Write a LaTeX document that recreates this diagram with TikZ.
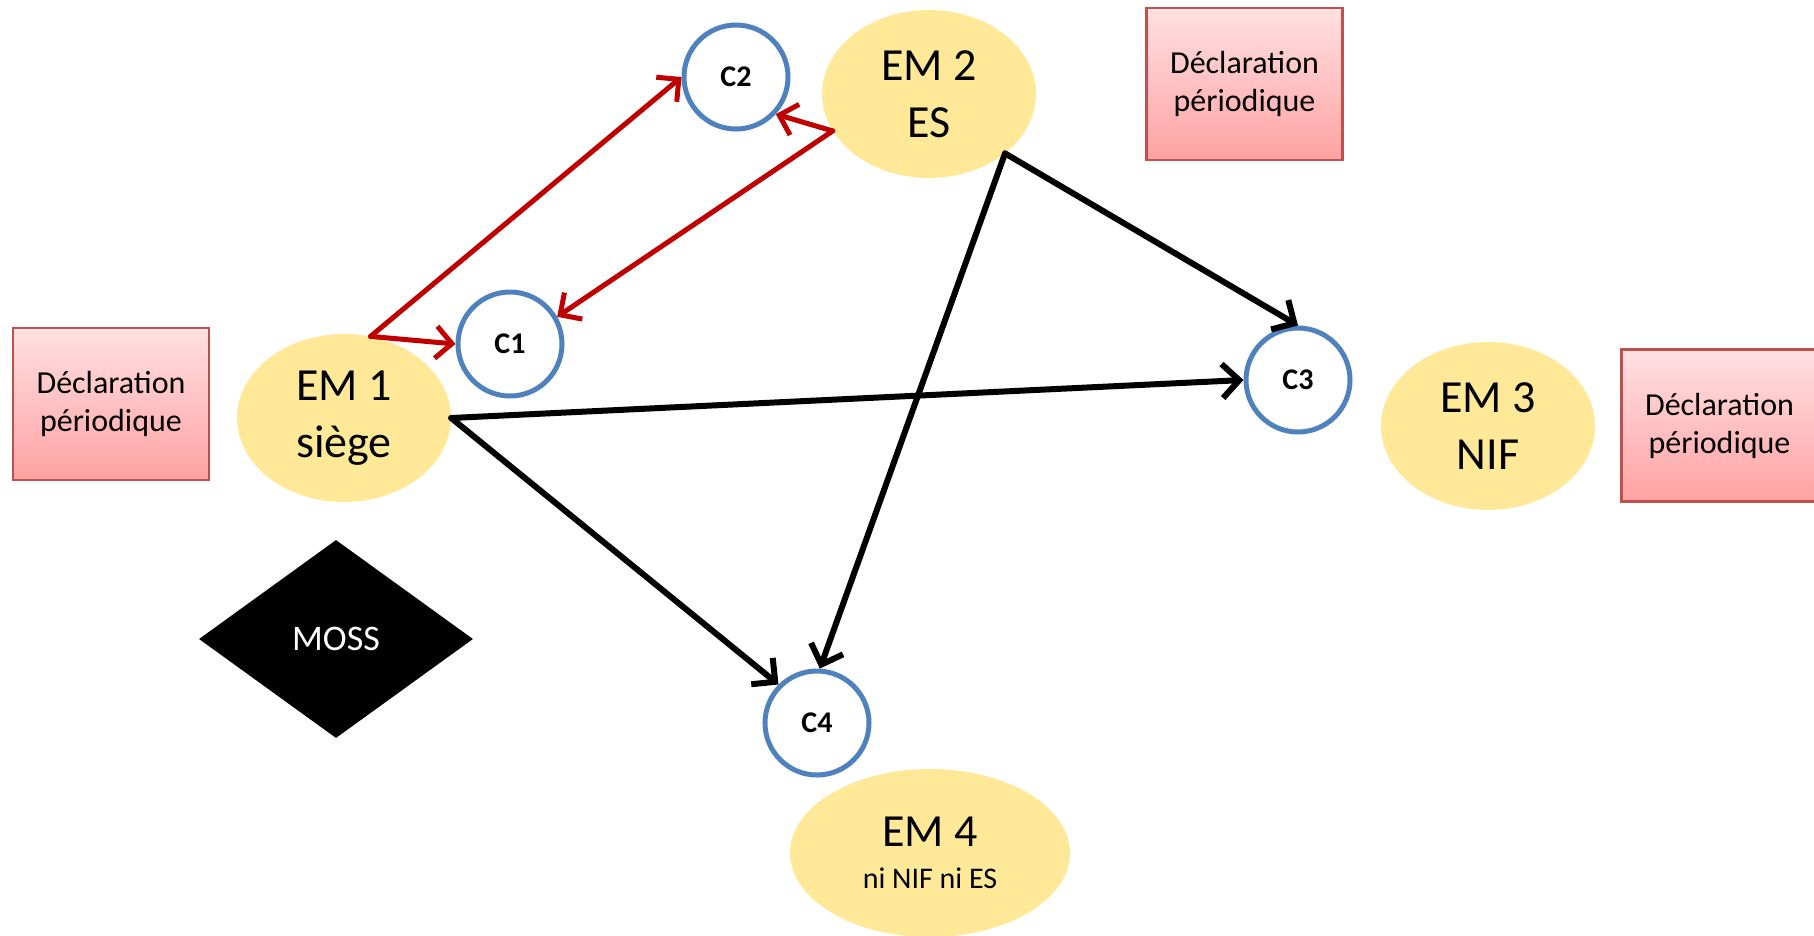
\documentclass[tikz,border=0pt]{standalone}
\usepackage{fontspec}
\setmainfont{Carlito}
\usetikzlibrary{shapes.geometric,arrows.meta}
\definecolor{emfill}{RGB}{255,233,153}
\definecolor{cblue}{RGB}{79,129,189}
\definecolor{declborder}{RGB}{192,80,77}
\definecolor{decltop}{RGB}{255,224,227}
\definecolor{declbot}{RGB}{255,162,162}
\definecolor{arrred}{RGB}{192,0,0}
\begin{document}
\begin{tikzpicture}[x=1pt,y=-1pt,
  em/.style={ellipse, fill=emfill, inner sep=0pt, minimum width=214pt, minimum height=168pt, align=center, font=\fontsize{46}{57}\selectfont},
  cnode/.style={circle, draw=cblue, fill=white, line width=5pt, minimum size=104pt, inner sep=0pt, font=\fontsize{30}{36}\selectfont\bfseries},
  decl/.style={rectangle, draw=declborder, line width=2.5pt, top color=decltop, bottom color=declbot, minimum width=196pt, minimum height=152pt, align=center, font=\fontsize{32}{38}\selectfont},
  redarrow/.style={draw=arrred, line width=5pt, line cap=round, -{Straight Barb[length=16pt,width=32pt]}},
  blackarrow/.style={draw=black, line width=6pt, line cap=round, -{Straight Barb[length=17pt,width=34pt]}}
]
\useasboundingbox (0,0) rectangle (1814,935);

\node[decl] (d1) at (111,404) {Déclaration\\périodique};
\node[decl] (d2) at (1244.5,84) {Déclaration\\périodique};
\node[decl] (d3) at (1719.5,425.5) {Déclaration\\périodique};

\node[em] (em1) at (344,418) {EM 1\\siège};
\node[em] (em2) at (929,94) {EM 2\\ES};
\node[em] (em3) at (1488,426) {EM 3\\NIF};
\node[em, minimum width=280pt] (em4) at (930,853) {EM 4\\[-15pt]{\fontsize{30}{36}\selectfont ni NIF ni ES}};

\node[cnode] (c1) at (510,344) {C1};
\node[cnode] (c2) at (736,77) {C2};
\node[cnode] (c3) at (1298,380) {C3};
\node[cnode] (c4) at (817,723) {C4};

\node[diamond, fill=black, minimum width=274pt, minimum height=198pt, inner sep=0pt, text=white, font=\fontsize{36}{43}\selectfont] (moss) at (336,639) {MOSS};

\draw[redarrow] (em1.72) -- (c1.180);
\draw[redarrow] (em1.72) -- (c2.west);
\draw[redarrow] (em2.201) -- (c2.317);
\draw[redarrow] (em2.201) -- (c1.30);

\draw[blackarrow] (em2.322) -- (c3.north);
\draw[blackarrow] (em2.322) -- (c4.87);
\draw[blackarrow] (em1.east) -- (c3.west);
\draw[blackarrow] (em1.east) -- (c4.135);
\end{tikzpicture}
\end{document}
